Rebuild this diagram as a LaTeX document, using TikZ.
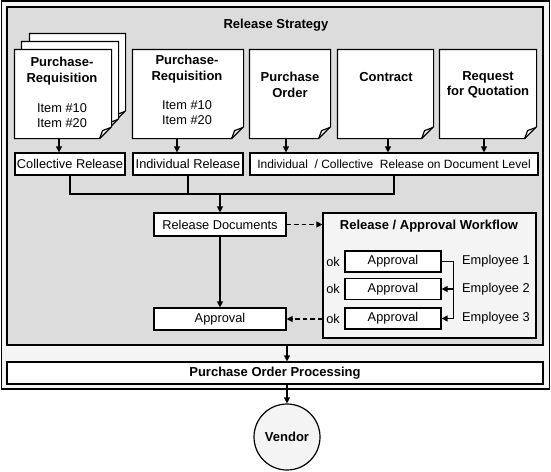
\documentclass[tikz,border=0pt]{standalone}
\usepackage{fontspec}
\setmainfont{Liberation Sans}
\usetikzlibrary{arrows.meta}

\definecolor{stratgray}{HTML}{DCDCDC}
\definecolor{palegray}{HTML}{F4F4F4}

% page with folded corner, drawn round an empty node
\newcommand{\docpage}[1]{%
  \draw[fill=white] (#1.north west) -- (#1.north east) -- ([yshift=12]#1.south east)
    -- ([xshift=-12]#1.south east) -- (#1.south west) -- cycle;
  \draw ([xshift=-12]#1.south east) -- ([xshift=-9,yshift=8]#1.south east)
    -- ([xshift=-1,yshift=11]#1.south east);}

\begin{document}
\begin{tikzpicture}[x=1pt, y=-1pt, line width=1.2pt,
    >={Triangle[length=6pt,width=6pt]},
    page/.style={minimum height=88, inner sep=0},
    hd/.style={font=\fontsize{13}{15.5}\selectfont\bfseries, align=center, inner sep=0},
    txt/.style={font=\fontsize{12.8}{15}\selectfont, align=center, inner sep=0},
    box/.style={draw, fill=white, minimum height=22, inner sep=0,
      font=\fontsize{12.8}{14}\selectfont},
    dashflow/.style={->, dash pattern=on 4.5pt off 3pt}]
    \useasboundingbox (0,0) rectangle (551,471);

    % Rahmen
    \node[draw, line width=1.8pt, fill=palegray, minimum width=548, minimum height=388,
      inner sep=0] (frame) at (275.5,195) {};
    \node[draw, line width=1.8pt, fill=stratgray, minimum width=536, minimum height=338,
      inner sep=0] (strat) at (275,176) {};
    \node[hd] (strattitle) at (276,25) {Release Strategy};

    % Belege
    \node[page, minimum width=95] (pr1c) at (77.5,78) {};
    \node[page, minimum width=96] (pr1b) at (70,86) {};
    \node[page, minimum width=96] (pr1) at (63,94) {};
    \node[page, minimum width=110] (pr2) at (188,94) {};
    \node[page, minimum width=80] (po) at (290,94) {};
    \node[page, minimum width=95] (ctr) at (385.5,94) {};
    \node[page, minimum width=96] (rfq) at (488,94) {};
    \foreach \p in {pr1c,pr1b,pr1,pr2,po,ctr,rfq} {\docpage{\p}}

    \node[hd] (pr1t) at (62,71) {Purchase-\\Requisition};
    \node[txt] (pr1i) at (62,116) {Item \#10\\Item \#20};
    \node[hd] (pr2t) at (187,69) {Purchase-\\Requisition};
    \node[txt] (pr2i) at (187,113) {Item \#10\\Item \#20};
    \node[hd] (pot) at (290,85) {Purchase\\Order};
    \node[hd] (ctrt) at (386,77) {Contract};
    \node[hd] (rfqt) at (488,85) {Request\\for Quotation};

    % Freigabeart
    \node[box, minimum width=110] (colrel) at (70,164) {Collective Release};
    \node[box, minimum width=110] (indrel) at (188,164) {Individual Release};
    \node[box, minimum width=288, font=\fontsize{12}{14}\selectfont] (docrel) at (394,164)
      {Individual\ \ / Collective\ \ Release on Document Level};
    \foreach \d/\r/\s in {pr1/colrel/-4, pr2/indrel/-11, po/docrel/-4, ctr/docrel/2.5, rfq/docrel/-4}
      \draw[->] ([xshift=\s]\d.south) -- ([xshift=\s]\d.south |- \r.north);

    % Zusammenfuehrung
    \node[box, minimum width=132, minimum height=23] (reldoc) at (220,224.5) {Release Documents};
    \node[box, minimum width=132] (apprl) at (220,319) {Approval};
    \coordinate (bus) at (220,194);
    \draw (colrel.south) |- (bus) -| (docrel.south);
    \draw (indrel.south) -- (indrel.south |- bus);
    \draw[->] (bus) -- (reldoc.north);
    \draw[->] (reldoc) -- (apprl);

    % Workflow
    \node[draw, fill=palegray, minimum width=213, minimum height=125, inner sep=0]
      (wf) at (429.5,275.5) {};
    \node[hd] (wft) at (429,226) {Release / Approval Workflow};
    \foreach \i/\y in {1/261.5, 2/289, 3/318.5} {
      \node[box, minimum width=96, minimum height=21] (ap\i) at (393,\y) {Approval};
      \node[txt, anchor=east] (ok\i) at ([xshift=-4]ap\i.west) {ok};
      \node[txt, anchor=west] (emp\i) at ([xshift=20]ap\i.east) {Employee \i};
    }
    \coordinate (fork) at ([xshift=12]ap1.east);
    \draw[->] (ap1.east) -- (fork) |- (ap3.east);
    \draw[->] (fork |- ap2.east) -- (ap2.east);
    \draw[dashflow] (reldoc.east) -- (reldoc.east -| wf.west);
    \draw[dashflow] (wf.west |- apprl.east) -- (apprl.east);

    % Bestellabwicklung
    \node[box, minimum width=536, minimum height=22, font=\fontsize{13}{15}\selectfont\bfseries]
      (pop) at (275,373) {Purchase Order Processing};
    \node[circle, draw, fill=palegray, minimum size=66, inner sep=0,
      font=\fontsize{13}{15}\selectfont\bfseries] (vendor) at (287,437) {Vendor};
    \draw[->] (strat.south -| vendor) -- (pop.north -| vendor);
    \draw[->] (pop.south -| vendor) -- (vendor.north);
\end{tikzpicture}
\end{document}
